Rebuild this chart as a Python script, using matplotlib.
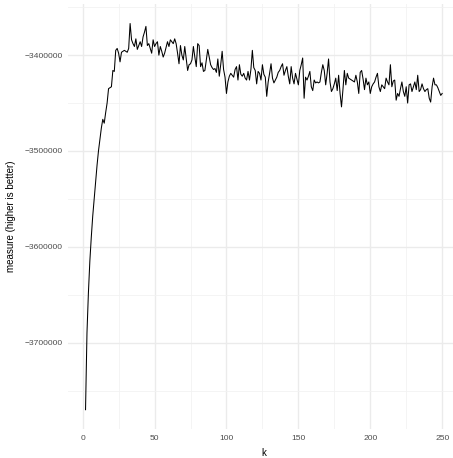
import numpy as np
import matplotlib.pyplot as plt
from matplotlib.ticker import MultipleLocator

plt.rcParams['font.family'] = ['Liberation Sans', 'DejaVu Sans']

# number of clusters tried
k = np.arange(2, 251)

# score for each k (higher is better)
measure = [
    -3770000, -3690000, -3648000, -3615000, -3590000, -3568000, -3550000, -3532000, -3515000,
    -3500000, -3488000, -3476000, -3467000, -3471000, -3460000, -3450000, -3435000, -3434000,
    -3433000, -3416000, -3417000, -3395000, -3393000, -3398000, -3407000, -3397000, -3396000,
    -3395000, -3396000, -3397000, -3393000, -3367000, -3384000, -3388000, -3391000, -3383000,
    -3394000, -3390000, -3386000, -3391000, -3381000, -3376000, -3370000, -3390000, -3388000,
    -3393000, -3398000, -3384000, -3391000, -3388000, -3386000, -3400000, -3391000, -3396000,
    -3402000, -3398000, -3392000, -3386000, -3391000, -3384000, -3386000, -3388000, -3383000,
    -3388000, -3398000, -3409000, -3390000, -3400000, -3405000, -3391000, -3404000, -3416000,
    -3410000, -3409000, -3405000, -3391000, -3402000, -3412000, -3388000,
    # k = 81 ..
    -3390000, -3412000, -3408000, -3417000, -3416000, -3405000, -3394000, -3402000, -3410000,
    -3413000, -3415000, -3414000, -3418000, -3404000, -3422000, -3410000, -3396000, -3415000,
    -3423000, -3440000, -3428000, -3422000, -3419000, -3421000, -3423000, -3415000, -3412000,
    -3426000, -3410000, -3420000, -3422000, -3419000, -3424000, -3426000, -3417000, -3426000,
    -3415000, -3395000, -3413000, -3416000, -3430000, -3417000, -3419000, -3426000, -3410000,
    -3420000, -3423000, -3443000, -3428000, -3419000, -3409000, -3424000, -3429000, -3426000,
    -3423000, -3418000, -3416000, -3412000, -3409000, -3421000, -3416000, -3412000, -3422000,
    -3430000, -3412000, -3424000, -3430000, -3419000, -3425000, -3431000, -3416000, -3410000,
    -3403000, -3445000, -3423000, -3426000, -3422000, -3417000, -3433000, -3437000, -3426000,
    -3429000, -3428000, -3429000, -3428000, -3418000, -3410000, -3416000, -3431000, -3419000,
    -3404000, -3428000, -3438000, -3435000, -3430000, -3424000, -3437000, -3421000, -3440000,
    -3454000, -3436000, -3416000, -3431000, -3419000, -3424000, -3425000, -3426000, -3427000,
    -3428000, -3421000, -3428000, -3440000, -3418000, -3416000, -3425000, -3436000, -3424000,
    -3431000, -3428000, -3440000, -3433000, -3430000, -3428000, -3423000, -3419000, -3433000,
    -3438000, -3431000, -3433000, -3435000, -3424000, -3428000, -3431000, -3410000, -3433000,
    -3427000, -3426000, -3447000, -3440000, -3443000, -3435000, -3428000, -3438000, -3443000,
    -3433000, -3450000, -3431000, -3430000, -3438000, -3433000, -3428000, -3436000, -3421000,
    -3438000, -3436000, -3430000, -3435000, -3438000, -3436000, -3435000, -3445000, -3449000,
    -3433000, -3424000, -3431000, -3431000, -3434000, -3438000, -3442000, -3440000,
]
measure = np.array(measure, dtype=float)
assert len(measure) == len(k)

W, H = 453, 458
fig = plt.figure(figsize=(W / 100, H / 100), dpi=100)
# panel runs a little past the right edge
left, right, top, bottom = 67.7, 460.0, 4.2, 429.0
ax = fig.add_axes([left / W, 1 - bottom / H, (right - left) / W, (bottom - top) / H])

ax.plot(k, measure, color='black', linewidth=0.75)

# ggplot-style 5% expansion
xr = k.max() - k.min()
yr = measure.max() - measure.min()
ax.set_xlim(k.min() - 0.05 * xr, k.max() + 0.05 * xr)
ax.set_ylim(measure.min() - 0.05 * yr, measure.max() + 0.05 * yr)

ax.xaxis.set_major_locator(MultipleLocator(50))
ax.xaxis.set_minor_locator(MultipleLocator(25))
ax.yaxis.set_major_locator(MultipleLocator(100000))
ax.yaxis.set_minor_locator(MultipleLocator(50000))

ax.grid(which='major', color='#EBEBEB', linewidth=1.0)
ax.grid(which='minor', color='#F2F2F2', linewidth=0.6)
ax.set_axisbelow(True)
for s in ax.spines.values():
    s.set_visible(False)

ax.tick_params(which='both', length=0, labelsize=6.1, labelcolor='#4D4D4D')
ax.tick_params(axis='x', pad=4.5)
ax.tick_params(axis='y', pad=3.5)
ax.set_yticklabels([f"\u2212{abs(int(v))}" for v in ax.get_yticks()])

ax.set_xlabel('k', fontsize=7, color='black', labelpad=3)
ax.set_ylabel('measure (higher is better)', fontsize=7, color='black', labelpad=6)
ax.xaxis.set_label_coords((263.5 - left) / (right - left), -(448 - bottom) / (bottom - top))

fig.savefig('out.png', dpi=100)
